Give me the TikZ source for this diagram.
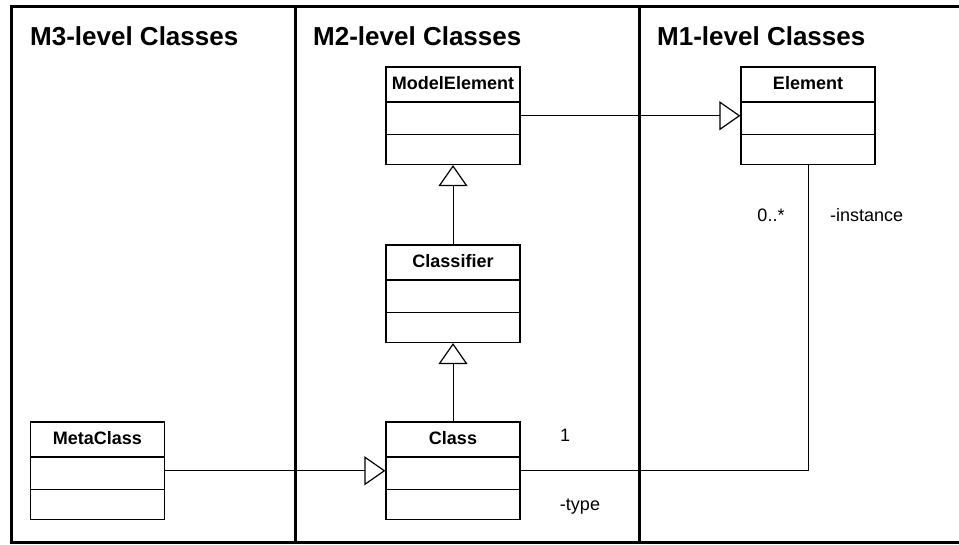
\documentclass[tikz,border=0pt]{standalone}
\usepackage{fontspec}
\setmainfont{Liberation Sans}
\usetikzlibrary{arrows.meta,positioning}

\begin{document}
\begin{tikzpicture}[x=1pt, y=-1pt,
    frame/.style={line width=3pt},
    classbox/.style={draw, line width=1.2pt, minimum width=134pt, minimum height=97.5pt, inner sep=0pt},
    classname/.style={font=\bfseries\fontsize{18}{20}\selectfont, anchor=base, inner sep=0pt},
    title/.style={font=\bfseries\fontsize{26}{29}\selectfont, anchor=base west, inner sep=0pt},
    lbl/.style={font=\fontsize{18}{20}\selectfont, anchor=base, inner sep=0pt},
    inherit/.style={line width=0.9pt, -{Triangle[open, length=21pt, width=29pt, line width=1.2pt]}},
    assoc/.style={line width=0.9pt}]
    \def\hd{35.5}
    \def\cp{31}
    \useasboundingbox (0,0) rectangle (959,544);

    % frame
    \draw[frame] (959,6) -- (11,6) -- (11,542) -- (959,542);
    \draw[frame] (295,6) -- (295,542);
    \draw[frame] (639,6) -- (639,542);
    \node[title] (mthree) at (30,45) {M3-level Classes};
    \node[title] (mtwo) at (313,45) {M2-level Classes};
    \node[title] (mone) at (657,45) {M1-level Classes};

    % classes
    \foreach \nm/\cx/\cy/\txt in {meta/97.5/470.75/MetaClass,
                                 modelel/453/115.75/ModelElement,
                                 clsf/453/293.75/Classifier,
                                 cls/453/470.75/Class,
                                 elem/808/115.75/Element} {
        \node[classbox] (\nm) at (\cx,\cy) {};
        \node[classname] (\nm-name) at ([yshift=-23pt]\nm.north) {\txt};
        \draw[line width=1.2pt] ([yshift=-\hd pt]\nm.north west) -- ([yshift=-\hd pt]\nm.north east);
        \draw[line width=1.2pt] ([yshift=\cp pt]\nm.south west) -- ([yshift=\cp pt]\nm.south east);
    }

    % generalizations
    \draw[inherit] (clsf.north) -- (modelel.south);
    \draw[inherit] (cls.north) -- (clsf.south);
    \draw[inherit] (meta.east) -- (cls.west);
    \draw[inherit] (modelel.east) -- (elem.west);

    % association
    \draw[assoc] (cls.east) -| (elem.south);
    \node[lbl] (one) at (565,441.7) {1};
    \node[lbl] (type) at (580,510) {-type};
    \node[lbl] (many) at (771,221.7) {0..*};
    \node[lbl, anchor=base west] (inst) at (830,221.7) {-instance};
\end{tikzpicture}
\end{document}
